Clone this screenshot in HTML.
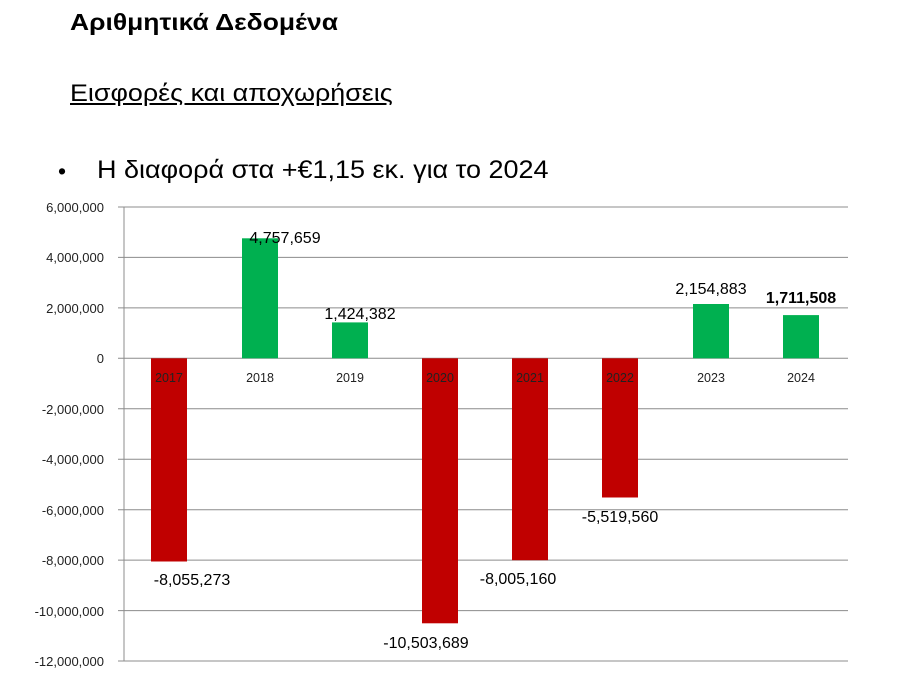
<!DOCTYPE html>
<html><head><meta charset="utf-8"><style>
body{margin:0;background:#fff;width:921px;height:689px;overflow:hidden;font-family:"Liberation Sans","DejaVu Sans",sans-serif;}
.t{position:absolute;color:#000;white-space:nowrap;transform-origin:0 0}
</style></head><body>
<div class="t" style="left:70px;top:9px;font-size:23px;font-weight:bold;transform:scaleX(1.15)">Αριθμητικά Δεδομένα</div>
<div class="t" style="left:70px;top:80px;font-size:24px;text-decoration:underline;transform:scaleX(1.12)">Εισφορές και αποχωρήσεις</div>
<div class="t" style="left:58px;top:158px;font-size:23px">•</div>
<div class="t" style="left:97px;top:156px;font-size:25px;transform:scaleX(1.08)">Η διαφορά στα +€1,15 εκ. για το 2024</div>
<svg width="921" height="689" style="position:absolute;left:0;top:0" font-family="Liberation Sans, sans-serif">
<g stroke="#8c8c8c" stroke-width="1">
<line x1="118" x2="848" y1="207" y2="207"/><line x1="118" x2="848" y1="257.4" y2="257.4"/>
<line x1="118" x2="848" y1="307.9" y2="307.9"/><line x1="118" x2="848" y1="358.3" y2="358.3"/>
<line x1="118" x2="848" y1="408.8" y2="408.8"/><line x1="118" x2="848" y1="459.2" y2="459.2"/>
<line x1="118" x2="848" y1="509.7" y2="509.7"/><line x1="118" x2="848" y1="560.1" y2="560.1"/>
<line x1="118" x2="848" y1="610.6" y2="610.6"/><line x1="118" x2="848" y1="661" y2="661"/>
<line x1="124" x2="124" y1="207" y2="661"/>
</g>
<g font-size="13" fill="#222" text-anchor="end">
<text x="104" y="212">6,000,000</text><text x="104" y="262">4,000,000</text><text x="104" y="313">2,000,000</text>
<text x="104" y="363">0</text><text x="104" y="414">-2,000,000</text><text x="104" y="464">-4,000,000</text>
<text x="104" y="515">-6,000,000</text><text x="104" y="565">-8,000,000</text><text x="104" y="616">-10,000,000</text><text x="104" y="666">-12,000,000</text>
</g>
<rect x="151" y="358.3" width="36" height="203.2" fill="#c00000"/>
<rect x="242" y="238.3" width="36" height="120" fill="#00b050"/>
<rect x="332" y="322.4" width="36" height="35.9" fill="#00b050"/>
<rect x="422" y="358.3" width="36" height="265" fill="#c00000"/>
<rect x="512" y="358.3" width="36" height="201.9" fill="#c00000"/>
<rect x="602" y="358.3" width="36" height="139.2" fill="#c00000"/>
<rect x="693" y="304" width="36" height="54.3" fill="#00b050"/>
<rect x="783" y="315.1" width="36" height="43.2" fill="#00b050"/>
<g font-size="12.5" fill="#222" text-anchor="middle">
<text x="169" y="382">2017</text><text x="260" y="382">2018</text><text x="350" y="382">2019</text><text x="440" y="382">2020</text>
<text x="530" y="382">2021</text><text x="620" y="382">2022</text><text x="711" y="382">2023</text><text x="801" y="382">2024</text>
</g>
<g font-size="16" fill="#000" text-anchor="middle">
<text x="192" y="585">-8,055,273</text><text x="285" y="243">4,757,659</text><text x="360" y="319">1,424,382</text>
<text x="426" y="648">-10,503,689</text><text x="518" y="584">-8,005,160</text><text x="620" y="522">-5,519,560</text>
<text x="711" y="294">2,154,883</text><text x="801" y="303" font-weight="bold">1,711,508</text>
</g>
</svg>
</body></html>
